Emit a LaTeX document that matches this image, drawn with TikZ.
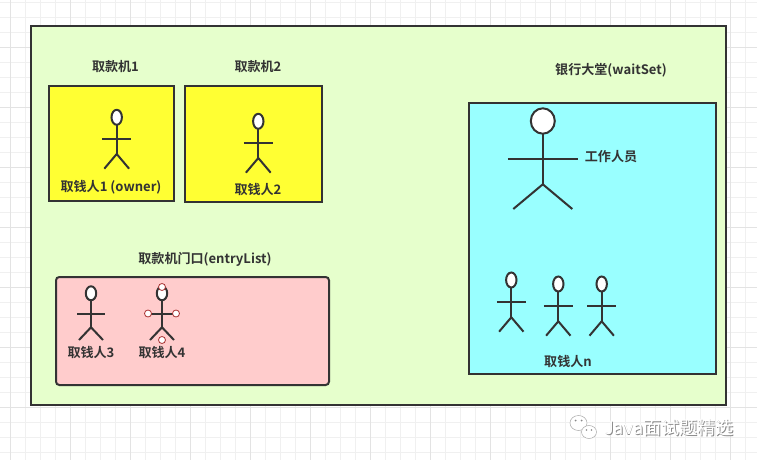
\documentclass[tikz,border=0pt]{standalone}
\usepackage{fontspec}
\setmainfont{Noto Sans CJK SC}[BoldFont={* Bold}]
\begin{document}
\begin{tikzpicture}[x=0.75pt,y=-0.75pt,
  box/.style={draw=ink,line width=1.5pt},
  lab/.style={font=\fontsize{9.8pt}{11pt}\selectfont\bfseries,text=ink,inner sep=0pt},
  limb/.style={draw=ink,line width=1.5pt},
  handle/.style={draw=handlered,fill=white,line width=0.6pt}]
\definecolor{ink}{HTML}{333333}
\definecolor{handlered}{HTML}{A83232}
\definecolor{gridminor}{HTML}{F0F0F0}
\definecolor{gridmajor}{HTML}{E3E3E3}
\definecolor{wm}{HTML}{8A8A8A}
\definecolor{greenfill}{HTML}{E6FFCC}
\definecolor{yellowfill}{HTML}{FFFF33}
\definecolor{pinkfill}{HTML}{FFCCCC}
\definecolor{cyanfill}{HTML}{99FFFF}
\useasboundingbox (0,0) rectangle (757,460);
\fill[white] (0,0) rectangle (757,460);
% grid
\foreach \i in {0,...,50} {\draw[gridminor,line width=0.6pt] ({10.5+15*\i},0) -- ({10.5+15*\i},460);}
\foreach \i in {0,...,30} {\draw[gridminor,line width=0.6pt] (0,{2.5+15*\i}) -- (757,{2.5+15*\i});}
\foreach \i in {0,...,12} {\draw[gridmajor,line width=0.6pt] ({10.5+60*\i},0) -- ({10.5+60*\i},460);}
\foreach \i in {0,...,7} {\draw[gridmajor,line width=0.6pt] (0,{47.5+60*\i}) -- (757,{47.5+60*\i});}
% boxes
\draw[box,fill=greenfill] (31,26) rectangle (726,405);
\draw[box,fill=yellowfill] (49,86) rectangle (174,201);
\draw[box,fill=yellowfill] (185,86) rectangle (322,202);
\draw[box,fill=pinkfill,rounded corners=2.5pt] (56,277) rectangle (329,385);
\draw[box,fill=cyanfill] (469,103) rectangle (716,374);
% figures
\newcommand{\person}[8]{% x, y(head), rx, ry, arm half, joint dy, foot half, foot dy
  \draw[limb] (#1,#2) ++(0,#4) -- ++(0,{#6-#4});
  \draw[limb] (#1,#2) ++(-#5,{#6*0.6}) -- ++({2*#5},0);
  \draw[limb] (#1,#2) ++(-#7,#8) -- ++(#7,{#6-#8}) -- ++(#7,{#8-#6});
  \draw[limb,fill=white] (#1,#2) ellipse [x radius=#3,y radius=#4];
}
\person{116.7}{117.3}{5.2}{7.5}{14.5}{36.7}{12.4}{51.4}
\person{258.3}{121.3}{5.2}{7.5}{14.5}{36.7}{12.4}{51.4}
\person{91}{293.3}{5.2}{7}{14}{34}{12}{46.7}
\person{162}{293.3}{5.2}{7}{14}{34}{12}{46.7}
\person{511.3}{280}{5.2}{7.5}{14.5}{37.3}{12.2}{51.7}
\person{558.3}{284}{5.2}{7.5}{14.5}{37.3}{12.2}{51.7}
\person{601.7}{284}{5.2}{7.5}{14.5}{37.3}{12.2}{51.7}
\person{542.8}{121}{12}{12.7}{35}{63.3}{29.5}{88}
\foreach \p/\q in {162/287,148/313.5,176/313.5,162/340}{\draw[handle] (\p,\q) circle [radius=3.5];}
% labels
\node[lab] (t1) at (115.5,66.5) {取款机1};
\node[lab] (t2) at (258,66.5) {取款机2};
\node[lab] (t3) at (205,259.5) {取款机门口(entryList)};
\node[lab] (t4) at (611,70.5) {银行大堂(waitSet)};
\node[lab] (p1) at (111,187.5) {取钱人1 (owner)};
\node[lab] (p2) at (258,189.5) {取钱人2};
\node[lab] (p3) at (91,352.5) {取钱人3};
\node[lab] (p4) at (162,352.5) {取钱人4};
\node[lab] (w) at (611,156.5) {工作人员};
\node[lab] (pn) at (568,361.5) {取钱人n};
% watermark
\node[font=\fontsize{13.6pt}{15pt}\selectfont,text=wm,inner sep=0pt,anchor=west] (wm1) at (604.8,428.3) {Java面试题精选};
\node[font=\fontsize{13.6pt}{15pt}\selectfont,text=white,inner sep=0pt,anchor=west] (wm2) at (604,427.5) {Java面试题精选};
\draw[wm!70,fill=white,line width=0.4pt] (578.5,423) ellipse [x radius=8.5,y radius=7.5];
\draw[wm!70,fill=white,line width=0.4pt] (589,432) ellipse [x radius=7.5,y radius=6.5];
\fill[wm] (575.5,420.5) circle [radius=1] (581.5,420.5) circle [radius=1] (586.5,430) circle [radius=0.8] (591.5,430) circle [radius=0.8];
\end{tikzpicture}
\end{document}
